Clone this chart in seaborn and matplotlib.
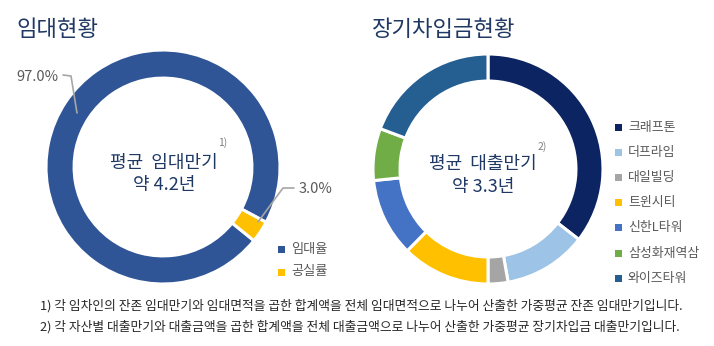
import matplotlib
matplotlib.use("Agg")
import matplotlib.pyplot as plt
import seaborn as sns

sns.set_theme(style="white")
plt.rcParams['font.family'] = ['Noto Sans CJK KR', 'DejaVu Sans']

# ---- data ----
lease_labels = ["임대율", "공실률"]
lease_values = [97.0, 3.0]
lease_colors = ["#2F5597", "#FFC000"]

loan_labels = ["크래프톤", "더프라임", "대일빌딩", "트윈시티", "신한L타워", "삼성화재역삼", "와이즈타워"]
loan_values = [35.5, 11.7, 2.8, 12.4, 11.0, 7.3, 19.3]
loan_colors = ["#0C2461", "#9DC3E6", "#A5A5A5", "#FFC000", "#4472C4", "#70AD47", "#255E91"]

title_left = "임대현황"
title_right = "장기차입금현황"
center_left = ["평균  임대만기", "약 4.2년"]
center_right = ["평균  대출만기", "약 3.3년"]
footnotes = [
    "1) 각 임차인의 잔존 임대만기와 임대면적을 곱한 합계액을 전체 임대면적으로 나누어 산출한 가중평균 잔존 임대만기입니다.",
    "2) 각 자산별 대출만기와 대출금액을 곱한 합계액을 전체 대출금액으로 나누어 산출한 가중평균 장기차입금 대출만기입니다.",
]

W, H = 714, 346
fig = plt.figure(figsize=(W / 100, H / 100), dpi=100)
fig.patch.set_facecolor("white")

NAVY = "#1F3864"
GRAY = "#595959"


def px(x, y):
    return x / W, 1 - y / H


def donut_axes(cx, cy, r):
    ax = fig.add_axes([(cx - r) / W, (H - cy - r) / H, 2 * r / W, 2 * r / H])
    return ax


def finish(ax):
    ax.set_xlim(-1, 1)
    ax.set_ylim(-1, 1)
    ax.set_aspect("equal")
    ax.axis("off")


def to_data(pxx, pyy, cx, cy, r):
    return (pxx - cx) / r, (cy - pyy) / r


# ---- left donut ----
lcx, lcy, lr = 163, 167, 117
axl = donut_axes(lcx, lcy, lr)
axl.pie(lease_values, colors=lease_colors, startangle=-39, counterclock=False,
        radius=1, wedgeprops=dict(width=0.24, edgecolor="white", linewidth=2.2))
finish(axl)

# leader lines
pts = [to_data(x, y, lcx, lcy, lr) for x, y in [(63, 75), (71, 76), (77, 113)]]
axl.plot([p[0] for p in pts], [p[1] for p in pts], color="#A6A6A6", lw=1.2, clip_on=False)
pts = [to_data(x, y, lcx, lcy, lr) for x, y in [(294, 188), (283, 188), (258, 222)]]
axl.plot([p[0] for p in pts], [p[1] for p in pts], color="#A6A6A6", lw=1.2, clip_on=False)

fig.text(*px(16, 77), f"{lease_values[0]:.1f}%", ha="left", va="center", fontsize=10.5, color=GRAY)
fig.text(*px(299, 189), f"{lease_values[1]:.1f}%", ha="left", va="center", fontsize=10.5, color=GRAY)

fig.text(*px(164, 163), center_left[0], ha="center", va="center", fontsize=13, color=NAVY)
fig.text(*px(164, 185), center_left[1], ha="center", va="center", fontsize=13, color=NAVY)
fig.text(*px(223, 143), "1)", ha="center", va="center", fontsize=7.5, color="#7F7F7F")

# left legend
for i, (lab, col) in enumerate(zip(lease_labels, lease_colors)):
    y = 249 + i * 23
    fig.patches.append(plt.Rectangle(px(278, y + 3.5), 7 / W, 7 / H, transform=fig.transFigure,
                                     facecolor=col, edgecolor="none"))
    fig.text(*px(291, y), lab, ha="left", va="center", fontsize=9.5, color=GRAY)

# ---- right donut ----
rcx, rcy, rr = 488, 169, 115
axr = donut_axes(rcx, rcy, rr)
axr.pie(loan_values, colors=loan_colors, startangle=90, counterclock=False,
        radius=1, wedgeprops=dict(width=0.235, edgecolor="white", linewidth=2.2))
finish(axr)

fig.text(*px(483, 164), center_right[0], ha="center", va="center", fontsize=13, color=NAVY)
fig.text(*px(483, 187), center_right[1], ha="center", va="center", fontsize=13, color=NAVY)
fig.text(*px(542, 147), "2)", ha="center", va="center", fontsize=7.5, color="#7F7F7F")

for i, (lab, col) in enumerate(zip(loan_labels, loan_colors)):
    y = 127 + i * 25.2
    fig.patches.append(plt.Rectangle(px(615, y + 3.5), 7 / W, 7 / H, transform=fig.transFigure,
                                     facecolor=col, edgecolor="none"))
    fig.text(*px(628, y), lab, ha="left", va="center", fontsize=9.3, color=GRAY)

# ---- titles ----
fig.text(*px(16, 29), title_left, ha="left", va="center", fontsize=16, color=NAVY)
fig.text(*px(372, 29), title_right, ha="left", va="center", fontsize=16, color=NAVY)

# ---- footnotes ----
fig.text(*px(40, 306), footnotes[0], ha="left", va="center", fontsize=9.2, color="#262626")
fig.text(*px(40, 327), footnotes[1], ha="left", va="center", fontsize=9.2, color="#262626")

fig.savefig("out.png", dpi=100, facecolor="white")
